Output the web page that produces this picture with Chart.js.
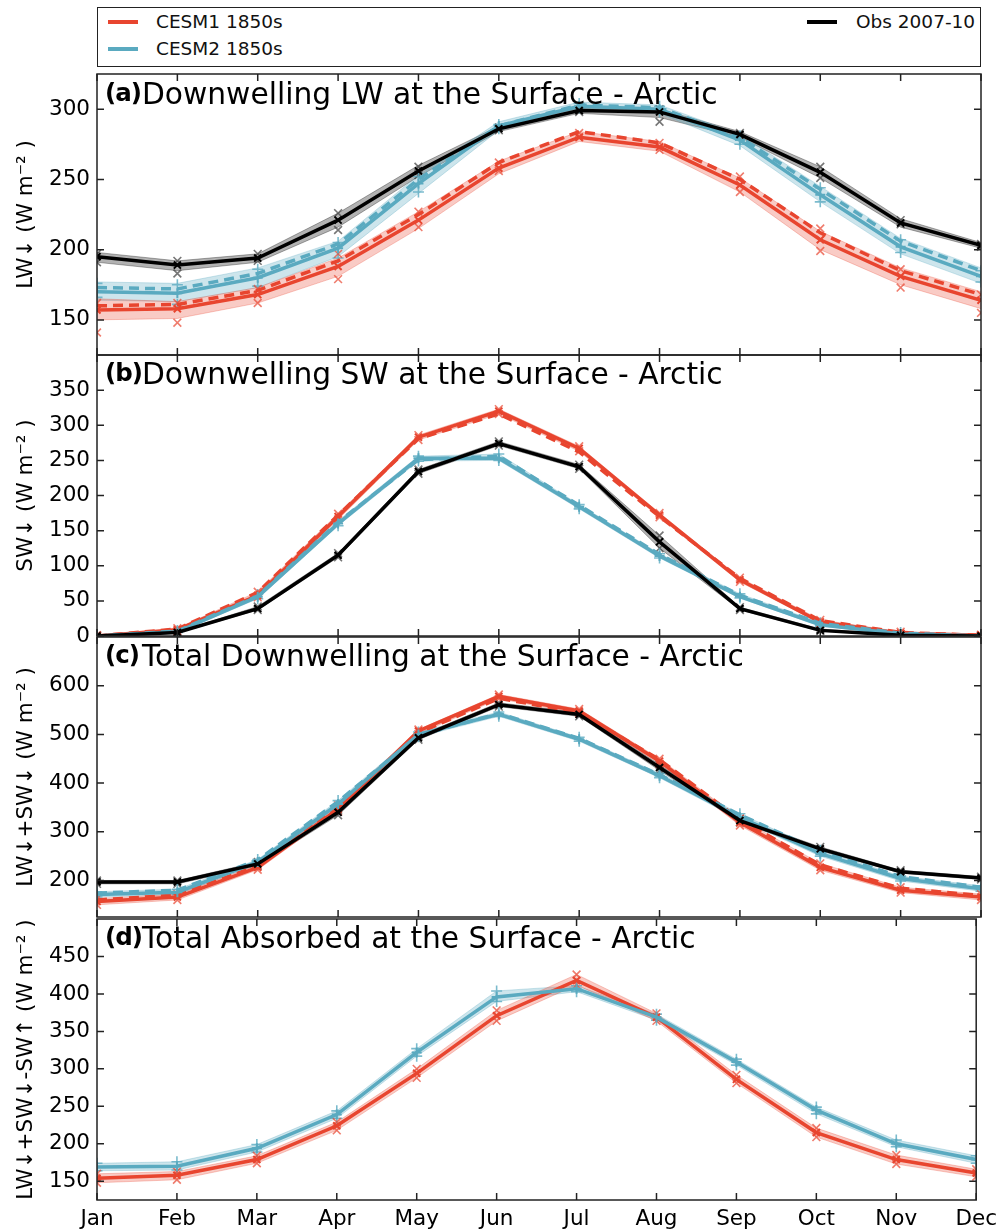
<!DOCTYPE html>
<html>
<head>
<meta charset="utf-8">
<script src="https://cdn.jsdelivr.net/npm/chart.js@4.4.0/dist/chart.umd.min.js"></script>
<style>
  body { margin: 0; background: #fff; font-family: "DejaVu Sans", sans-serif; }
  #page { position: relative; width: 1004px; height: 1230px; overflow: hidden; }
  .wrap { position: absolute; left: 0; width: 1004px; }
  .ptitle { position: absolute; left: 0; width: 800px; height: 34px; color: #000; white-space: nowrap; }
  .ptitle b { position: absolute; left: 105px; top: 2px; font-size: 24.5px; line-height: 1; letter-spacing: -1px; }
  .ptitle span { position: absolute; left: 142px; top: 0; font-size: 29.7px; line-height: 1; }
  #legend { position: absolute; left: 97px; top: 7px; width: 882px; height: 58px; border: 1.5px solid #222; }
  .lg { position: absolute; font-size: 18.5px; line-height: 1; color: #111; white-space: nowrap; }
  .sw { position: absolute; width: 30px; height: 4px; }
</style>
</head>
<body>
<div id="page">
  <div id="legend">
    <div class="sw" style="left:10px; top:12px; background:#e8452f"></div>
    <div class="lg" style="left:58px; top:5px">CESM1 1850s</div>
    <div class="sw" style="left:10px; top:39px; background:#5aaac0"></div>
    <div class="lg" style="left:58px; top:32px">CESM2 1850s</div>
    <div class="sw" style="left:709px; top:12px; background:#000"></div>
    <div class="lg" style="left:758px; top:5px">Obs 2007-10</div>
  </div>

  <div class="wrap" style="top:52px; height:325px"><canvas id="ca" width="1004" height="325"></canvas></div>
  <div class="wrap" style="top:333px; height:325px"><canvas id="cb" width="1004" height="325"></canvas></div>
  <div class="wrap" style="top:615px; height:324px"><canvas id="cc" width="1004" height="324"></canvas></div>
  <div class="wrap" style="top:897px; height:333px"><canvas id="cd" width="1004" height="333"></canvas></div>

  <div class="ptitle" style="top:79px"><b>(a)</b><span>Downwelling LW at the Surface - Arctic</span></div>
  <div class="ptitle" style="top:359px"><b>(b)</b><span>Downwelling SW at the Surface - Arctic</span></div>
  <div class="ptitle" style="top:641px"><b>(c)</b><span>Total Downwelling at the Surface - Arctic</span></div>
  <div class="ptitle" style="top:923px"><b>(d)</b><span>Total Absorbed at the Surface - Arctic</span></div>
</div>

<script>
const months = ['Jan', 'Feb', 'Mar', 'Apr', 'May', 'Jun', 'Jul', 'Aug', 'Sep', 'Oct', 'Nov', 'Dec'];

// (a) Downwelling LW
const aRed      = [157, 158, 168, 188, 221, 258, 280, 273, 246, 207, 181, 164];
const aRedDash  = [160, 161, 171, 192, 225, 262, 284, 276, 250, 212, 185, 168];
const aRedLo    = [150, 151, 162, 181, 215, 254, 277, 270, 241, 200, 175, 158];
const aRedHi    = [165, 163, 173, 194, 227, 263, 284, 277, 251, 213, 187, 170];
const aRedMemHi = [162, 162, 172, 197, 227, 262, 283, 276, 252, 215, 186, 168];
const aRedMemLo = [141, 148, 162, 179, 216, 256, 280, 271, 241, 199, 173, 155];
const aBlue      = [170, 169, 180, 201, 247, 288, 302, 300, 278, 239, 202, 181];
const aBlueDash  = [173, 172, 183, 204, 250, 288, 303, 301, 280, 243, 206, 185];
const aBlueLo    = [164, 163, 173, 195, 240, 285, 300, 297, 274, 234, 197, 176];
const aBlueHi    = [177, 176, 187, 206, 253, 291, 305, 303, 282, 245, 208, 187];
const aBlueMemHi = [176, 175, 186, 205, 252, 289, 304, 302, 281, 244, 207, 185];
const aBlueMemLo = [166, 161, 174, 194, 241, 286, 301, 298, 275, 234, 198, 177];
const aObs      = [195, 189, 194, 221, 256, 286, 299, 298, 282, 255, 219, 203];
const aObsLo    = [191, 185, 191, 216, 252, 284, 297, 294, 280, 251, 216, 201];
const aObsHi    = [198, 192, 197, 226, 260, 288, 301, 300, 284, 259, 222, 205];
const aObsMemHi = [197, 192, 197, 226, 259, 287, 299, 300, 283, 259, 221, 204];
const aObsMemLo = [191, 183, 192, 214, 253, 285, 298, 291, 281, 251, 218, 202];
const aTicks = [150, 200, 250, 300];

// (b) Downwelling SW
const bRed      = [0, 9, 58, 170, 283, 320, 267, 172, 80, 20, 4, 1];
const bRedDash  = [0, 10, 62, 172, 281, 316, 262, 170, 82, 22, 5, 1];
const bRedLo    = [0, 7, 55, 166, 279, 316, 263, 169, 77, 18, 3, 0];
const bRedHi    = [1, 11, 63, 174, 286, 323, 270, 175, 83, 23, 6, 2];
const bBlue     = [0, 6, 56, 160, 253, 253, 184, 114, 56, 16, 3, 0];
const bBlueDash = [0, 7, 57, 162, 251, 256, 186, 116, 58, 18, 4, 0];
const bBlueLo   = [0, 5, 53, 157, 249, 250, 181, 111, 54, 14, 2, 0];
const bBlueHi   = [1, 8, 59, 164, 256, 259, 187, 117, 60, 19, 5, 1];
const bObs      = [0, 5, 39, 115, 234, 274, 241, 134, 39, 8, 1, 0];
const bObsLo    = [0, 4, 37, 112, 231, 271, 238, 125, 37, 7, 0, 0];
const bObsHi    = [1, 6, 42, 118, 237, 277, 244, 143, 41, 10, 2, 1];
const bTicks = [0, 50, 100, 150, 200, 250, 300, 350];

// (c) Total downwelling
const cRed      = [157, 166, 227, 347, 507, 578, 548, 445, 319, 227, 180, 166];
const cRedDash  = [160, 170, 230, 352, 503, 574, 545, 448, 325, 232, 184, 169];
const cRedLo    = [150, 160, 222, 342, 501, 573, 543, 440, 313, 221, 175, 160];
const cRedHi    = [163, 172, 232, 354, 510, 582, 552, 450, 327, 235, 186, 172];
const cBlue     = [171, 176, 238, 357, 500, 541, 490, 415, 330, 255, 204, 183];
const cBlueDash = [174, 180, 242, 362, 498, 543, 492, 417, 335, 260, 208, 186];
const cBlueLo   = [166, 171, 233, 352, 495, 537, 486, 411, 325, 250, 199, 178];
const cBlueHi   = [177, 182, 243, 364, 505, 546, 494, 420, 337, 262, 209, 189];
const cObs      = [197, 197, 234, 340, 493, 561, 541, 432, 323, 265, 218, 205];
const cObsLo    = [193, 193, 230, 334, 489, 557, 537, 426, 319, 261, 215, 202];
const cObsHi    = [200, 200, 238, 345, 497, 565, 545, 438, 327, 269, 221, 208];
const cTicks = [200, 300, 400, 500, 600];

// (d) Total absorbed
const dRed    = [154, 158, 179, 224, 294, 371, 418, 369, 286, 215, 179, 161];
const dRedLo  = [148, 152, 174, 218, 288, 364, 412, 364, 281, 209, 173, 156];
const dRedHi  = [160, 163, 184, 229, 300, 378, 426, 374, 292, 221, 185, 166];
const dBlue   = [169, 170, 194, 239, 322, 396, 407, 369, 309, 245, 200, 179];
const dBlueLo = [164, 165, 189, 234, 317, 390, 403, 365, 305, 240, 196, 174];
const dBlueHi = [174, 176, 199, 244, 327, 404, 411, 373, 313, 249, 205, 184];
const dTicks = [150, 200, 250, 300, 350, 400, 450];

const RED = '#e8452f', BLUE = '#5aaac0', BLACK = '#000000';
const FONT = 'DejaVu Sans';

function band(lo, hi, color) {
    return [
        { data: lo, borderWidth: 1, borderColor: color, pointRadius: 0, fill: false, order: 10, clip: 0 },
        { data: hi, borderWidth: 1, borderColor: color, pointRadius: 0, fill: '-1', backgroundColor: color, order: 10, clip: 0 }
    ];
}

function marks(values, color, style) {
    return { data: values, showLine: false, pointStyle: style, pointRadius: 5.5, pointBorderWidth: 1.6,
             pointBorderColor: color, pointBackgroundColor: color, order: 6, clip: 0 };
}

function line(values, color, style, dashed, order) {
    return { data: values, borderColor: color, borderWidth: 3.5, borderDash: dashed ? [10, 6] : [],
             pointStyle: style, pointRadius: dashed ? 0 : 5, pointBorderWidth: 2, pointBorderColor: color,
             pointBackgroundColor: color, fill: false, tension: 0, order: order, clip: 0 };
}

// matplotlib style frame with inward ticks
const frameTicks = {
    id: 'frameTicks',
    afterDatasetsDraw(chart) {
        const { ctx, chartArea: a, scales } = chart;
        ctx.save();
        ctx.strokeStyle = '#222';
        ctx.lineWidth = 1.5;
        ctx.beginPath();
        months.forEach((m, i) => {
            const x = scales.x.getPixelForValue(i);
            ctx.moveTo(x, a.bottom); ctx.lineTo(x, a.bottom - 7);
            ctx.moveTo(x, a.top); ctx.lineTo(x, a.top + 7);
        });
        scales.y.ticks.forEach(t => {
            const y = scales.y.getPixelForValue(t.value);
            ctx.moveTo(a.left, y); ctx.lineTo(a.left + 7, y);
            ctx.moveTo(a.right, y); ctx.lineTo(a.right - 7, y);
        });
        ctx.stroke();
        ctx.strokeRect(a.left, a.top, a.right - a.left, a.bottom - a.top);
        ctx.restore();
    }
};

function makePanel(id, datasets, yMin, yMax, ticks, yTitle, showX) {
    new Chart(document.getElementById(id), {
        type: 'line',
        data: { labels: months, datasets: datasets },
        options: {
            responsive: false,
            animation: false,
            layout: { padding: { top: 22, bottom: showX ? 0 : 22, left: 0, right: 23 } },
            plugins: { legend: { display: false }, tooltip: { enabled: false } },
            scales: {
                x: {
                    type: 'category', offset: false, display: showX,
                    grid: { display: false, drawTicks: false }, border: { display: false },
                    ticks: { font: { family: FONT, size: 21.5 }, color: '#000', padding: 7, maxRotation: 0, autoSkip: false },
                    afterFit: s => { s.height = showX ? 30 : 0; }
                },
                y: {
                    min: yMin, max: yMax,
                    grid: { display: false, drawTicks: false }, border: { display: false },
                    afterBuildTicks: s => { s.ticks = ticks.map(v => ({ value: v })); },
                    ticks: { font: { family: FONT, size: 21.5 }, color: '#000', padding: 7 },
                    title: { display: true, text: yTitle, color: '#000', font: { family: FONT, size: 21.5 }, padding: { top: 14, bottom: 0 } },
                    afterFit: s => { s.width = 97; }
                }
            }
        },
        plugins: [frameTicks]
    });
}

const RB = 'rgba(232,69,47,0.28)', BB = 'rgba(90,170,192,0.3)', GB = 'rgba(0,0,0,0.3)';
const RM = 'rgba(232,69,47,0.7)', BM = 'rgba(90,170,192,0.8)', GM = 'rgba(60,60,60,0.7)';

makePanel('ca', [].concat(
    band(aRedLo, aRedHi, RB), band(aBlueLo, aBlueHi, BB), band(aObsLo, aObsHi, GB),
    [marks(aRedMemHi, RM, 'crossRot'), marks(aRedMemLo, RM, 'crossRot'),
     marks(aBlueMemHi, BM, 'cross'), marks(aBlueMemLo, BM, 'cross'),
     marks(aObsMemHi, GM, 'crossRot'), marks(aObsMemLo, GM, 'crossRot'),
     line(aRedDash, RED, false, true, 3), line(aRed, RED, 'crossRot', false, 3),
     line(aBlueDash, BLUE, false, true, 2), line(aBlue, BLUE, 'cross', false, 2),
     line(aObs, BLACK, 'crossRot', false, 1)]
), 125, 325, aTicks, 'LW\u2193 (W m\u207B\u00B2 )', false);

makePanel('cb', [].concat(
    band(bRedLo, bRedHi, RB), band(bBlueLo, bBlueHi, BB), band(bObsLo, bObsHi, GB),
    [marks(bRedLo, RM, 'crossRot'), marks(bRedHi, RM, 'crossRot'),
     marks(bBlueLo, BM, 'cross'), marks(bBlueHi, BM, 'cross'),
     marks(bObsLo, GM, 'crossRot'), marks(bObsHi, GM, 'crossRot'),
     line(bRedDash, RED, false, true, 3), line(bRed, RED, 'crossRot', false, 3),
     line(bBlueDash, BLUE, false, true, 2), line(bBlue, BLUE, 'cross', false, 2),
     line(bObs, BLACK, 'crossRot', false, 1)]
), 0, 400, bTicks, 'SW\u2193 (W m\u207B\u00B2 )', false);

makePanel('cc', [].concat(
    band(cRedLo, cRedHi, RB), band(cBlueLo, cBlueHi, BB), band(cObsLo, cObsHi, GB),
    [marks(cRedLo, RM, 'crossRot'), marks(cRedHi, RM, 'crossRot'),
     marks(cBlueLo, BM, 'cross'), marks(cBlueHi, BM, 'cross'),
     marks(cObsLo, GM, 'crossRot'), marks(cObsHi, GM, 'crossRot'),
     line(cRedDash, RED, false, true, 3), line(cRed, RED, 'crossRot', false, 3),
     line(cBlueDash, BLUE, false, true, 2), line(cBlue, BLUE, 'cross', false, 2),
     line(cObs, BLACK, 'crossRot', false, 1)]
), 125, 700, cTicks, 'LW\u2193+SW\u2193 (W m\u207B\u00B2 )', false);

makePanel('cd', [].concat(
    band(dRedLo, dRedHi, RB), band(dBlueLo, dBlueHi, BB),
    [marks(dRedLo, RM, 'crossRot'), marks(dRedHi, RM, 'crossRot'),
     marks(dBlueLo, BM, 'cross'), marks(dBlueHi, BM, 'cross'),
     line(dRed, RED, 'crossRot', false, 3), line(dBlue, BLUE, 'cross', false, 2)]
), 125, 500, dTicks, 'LW\u2193+SW\u2193-SW\u2191 (W m\u207B\u00B2 )', true);
</script>
</body>
</html>
